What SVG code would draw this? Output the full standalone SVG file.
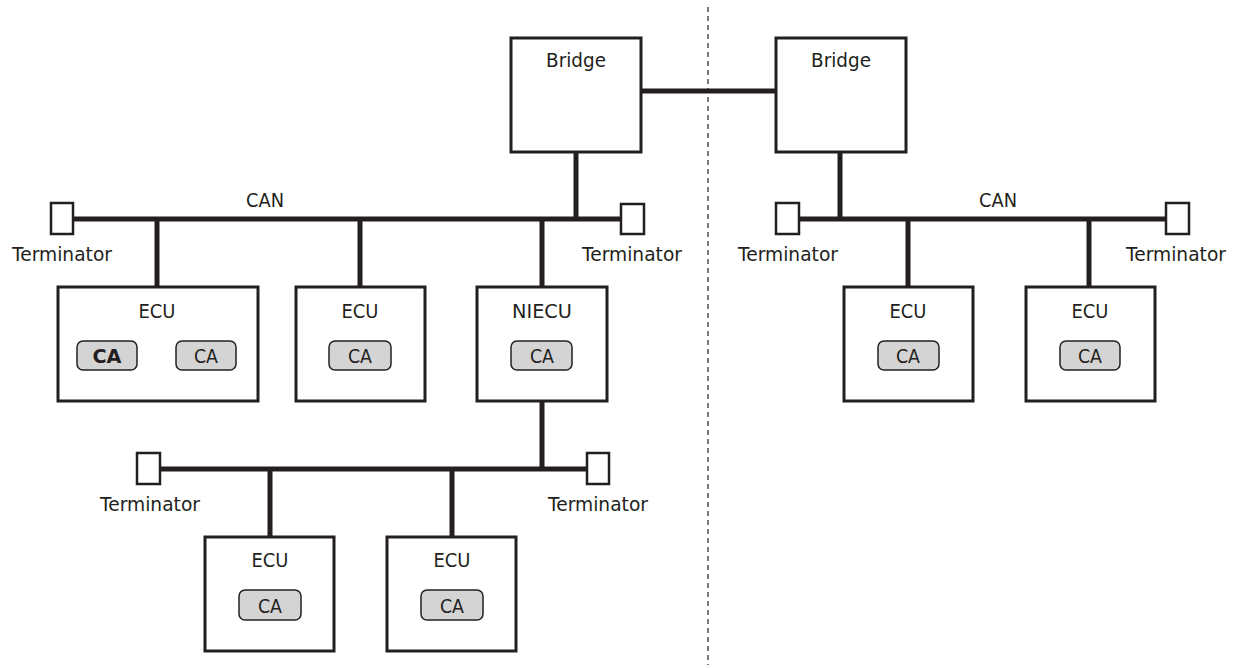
<svg xmlns="http://www.w3.org/2000/svg" width="1239" height="668" viewBox="0 0 1239 668">
<style>
.box{fill:#fff;stroke:#231f20;stroke-width:3}
.term{fill:#fff;stroke:#231f20;stroke-width:2.5}
.ca{fill:#d4d4d4;stroke:#231f20;stroke-width:1.5}
.bus{stroke:#231f20;stroke-width:5;fill:none}
.t{font-family:"DejaVu Sans",Verdana,sans-serif;font-size:19px;fill:#231f20;text-anchor:middle}
.tl{font-family:"DejaVu Sans",Verdana,sans-serif;font-size:19px;fill:#231f20}
.b{font-weight:bold}
</style>
<rect width="1239" height="668" fill="#fff"/>
<line x1="708" y1="7" x2="708" y2="665" stroke="#231f20" stroke-width="1.2" stroke-dasharray="5,4"/>
<g id="connectors">
<line class="bus" x1="73" y1="219" x2="621" y2="219"/>
<line class="bus" x1="576" y1="152" x2="576" y2="219"/>
<line class="bus" x1="641" y1="91" x2="776" y2="91"/>
<line class="bus" x1="157" y1="219" x2="157" y2="287"/>
<line class="bus" x1="360" y1="219" x2="360" y2="287"/>
<line class="bus" x1="542" y1="219" x2="542" y2="287"/>
<line class="bus" x1="542" y1="401" x2="542" y2="469"/>
<line class="bus" x1="160" y1="469" x2="587" y2="469"/>
<line class="bus" x1="270" y1="469" x2="270" y2="537"/>
<line class="bus" x1="452" y1="469" x2="452" y2="537"/>
<line class="bus" x1="799" y1="219" x2="1166" y2="219"/>
<line class="bus" x1="840" y1="152" x2="840" y2="219"/>
<line class="bus" x1="908" y1="219" x2="908" y2="287"/>
<line class="bus" x1="1089" y1="219" x2="1089" y2="287"/>
</g>
<text class="t" x="265" y="207" textLength="38" lengthAdjust="spacingAndGlyphs">CAN</text>
<text class="t" x="998" y="207" textLength="38" lengthAdjust="spacingAndGlyphs">CAN</text>
<g id="bridge1"><rect class="box" x="511" y="38" width="130" height="114"/><text class="t" x="576" y="67" textLength="60" lengthAdjust="spacingAndGlyphs">Bridge</text></g>
<g id="bridge2"><rect class="box" x="776" y="38" width="130" height="114"/><text class="t" x="841" y="67" textLength="60" lengthAdjust="spacingAndGlyphs">Bridge</text></g>
<g id="term1"><rect class="term" x="51" y="203" width="22" height="31"/><text class="tl" x="12" y="261" textLength="100" lengthAdjust="spacingAndGlyphs">Terminator</text></g>
<g id="term2"><rect class="term" x="621" y="204" width="23" height="30"/><text class="tl" x="582" y="261" textLength="100" lengthAdjust="spacingAndGlyphs">Terminator</text></g>
<g id="term3"><rect class="term" x="137" y="453" width="23" height="31"/><text class="tl" x="100" y="511" textLength="100" lengthAdjust="spacingAndGlyphs">Terminator</text></g>
<g id="term4"><rect class="term" x="587" y="453" width="22" height="31"/><text class="tl" x="548" y="511" textLength="100" lengthAdjust="spacingAndGlyphs">Terminator</text></g>
<g id="term5"><rect class="term" x="776" y="203" width="23" height="31"/><text class="tl" x="738" y="261" textLength="100" lengthAdjust="spacingAndGlyphs">Terminator</text></g>
<g id="term6"><rect class="term" x="1166" y="203" width="23" height="31"/><text class="tl" x="1126" y="261" textLength="100" lengthAdjust="spacingAndGlyphs">Terminator</text></g>
<g id="ecu1"><rect class="box" x="58" y="287" width="200" height="114"/><text class="t" x="157" y="318" textLength="37" lengthAdjust="spacingAndGlyphs">ECU</text>
<rect class="ca" x="77" y="341" width="60" height="29" rx="6"/><text class="t b" x="107" y="363" textLength="29" lengthAdjust="spacingAndGlyphs">CA</text>
<rect class="ca" x="176" y="341" width="60" height="29" rx="6"/><text class="t" x="206" y="363" textLength="24" lengthAdjust="spacingAndGlyphs">CA</text></g>
<g id="ecu2"><rect class="box" x="296" y="287" width="129" height="114"/><text class="t" x="360" y="318" textLength="37" lengthAdjust="spacingAndGlyphs">ECU</text>
<rect class="ca" x="329" y="341" width="62" height="29" rx="6"/><text class="t" x="360" y="363" textLength="24" lengthAdjust="spacingAndGlyphs">CA</text></g>
<g id="niecu"><rect class="box" x="477" y="287" width="130" height="114"/><text class="t" x="542" y="318" textLength="60" lengthAdjust="spacingAndGlyphs">NIECU</text>
<rect class="ca" x="511" y="341" width="61" height="29" rx="6"/><text class="t" x="542" y="363" textLength="24" lengthAdjust="spacingAndGlyphs">CA</text></g>
<g id="ecu3"><rect class="box" x="205" y="537" width="129" height="114"/><text class="t" x="270" y="567" textLength="37" lengthAdjust="spacingAndGlyphs">ECU</text>
<rect class="ca" x="239" y="590" width="62" height="30" rx="6"/><text class="t" x="270" y="613" textLength="24" lengthAdjust="spacingAndGlyphs">CA</text></g>
<g id="ecu4"><rect class="box" x="387" y="537" width="129" height="114"/><text class="t" x="452" y="567" textLength="37" lengthAdjust="spacingAndGlyphs">ECU</text>
<rect class="ca" x="421" y="590" width="62" height="30" rx="6"/><text class="t" x="452" y="613" textLength="24" lengthAdjust="spacingAndGlyphs">CA</text></g>
<g id="ecu5"><rect class="box" x="844" y="287" width="129" height="114"/><text class="t" x="908" y="318" textLength="37" lengthAdjust="spacingAndGlyphs">ECU</text>
<rect class="ca" x="878" y="341" width="61" height="29" rx="6"/><text class="t" x="908" y="363" textLength="24" lengthAdjust="spacingAndGlyphs">CA</text></g>
<g id="ecu6"><rect class="box" x="1026" y="287" width="129" height="114"/><text class="t" x="1090" y="318" textLength="37" lengthAdjust="spacingAndGlyphs">ECU</text>
<rect class="ca" x="1060" y="341" width="60" height="29" rx="6"/><text class="t" x="1090" y="363" textLength="24" lengthAdjust="spacingAndGlyphs">CA</text></g>
</svg>
